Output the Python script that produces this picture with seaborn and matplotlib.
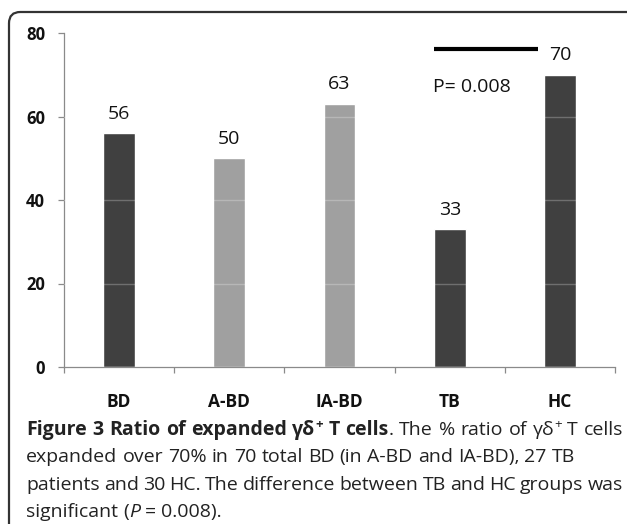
import matplotlib
matplotlib.use("Agg")
import matplotlib.pyplot as plt
import seaborn as sns
import pandas as pd
from matplotlib.patches import FancyBboxPatch

# values
groups = ["BD", "A-BD", "IA-BD", "TB", "HC"]
ratios = [56, 50, 63, 33, 70]
bar_labels = ["56", "50", "63", "33", "70"]
bar_colors = ["#404040", "#a0a0a0", "#a0a0a0", "#404040", "#404040"]
p_text = "P= 0.008"

sns.set_style("white")
plt.rcParams['font.family'] = ['Open Sans', 'DejaVu Sans']

df = pd.DataFrame({"group": groups, "ratio": ratios})

W, H = 627, 524
fig = plt.figure(figsize=(W/100, H/100), dpi=100)
ax = fig.add_axes([64/W, 1-367/H, (615-64)/W, (367-33)/H])

sns.barplot(data=df, x="group", y="ratio", hue="group", palette=bar_colors,
            legend=False, width=0.29, saturation=1, ax=ax)

# faint gridlines, only visible over the bars
for yv in [20, 40, 60]:
    ax.axhline(yv, color="white", alpha=0.25, lw=1, zorder=5)

ax.set_ylim(0, 80)
ax.set_xlim(-0.5, 4.5)
ax.set_yticks([0, 20, 40, 60, 80])
ax.set_xlabel("")
ax.set_ylabel("")
for s in ["top", "right"]:
    ax.spines[s].set_visible(False)
for s in ["left", "bottom"]:
    ax.spines[s].set_color("#8a8a8a")
    ax.spines[s].set_linewidth(0.9)

ax.tick_params(axis="y", left=True, length=4.5, width=0.9, color="#8a8a8a", labelsize=12, pad=9)
ax.tick_params(axis="x", bottom=False, labelsize=12.5, pad=15)
ax.set_xticks([-0.5, 0.5, 1.5, 2.5, 3.5, 4.5], minor=True)
ax.tick_params(axis="x", which="minor", bottom=True, length=4, width=0.9,
               color="#8a8a8a", direction="out")
for lab in ax.get_xticklabels() + ax.get_yticklabels():
    lab.set_fontweight("bold")
    lab.set_color("#111111")

# value labels above bars
for i in range(len(groups)):
    ax.text(i, ratios[i] + 3.5, bar_labels[i], ha="center", va="baseline",
            fontsize=14, color="#111111", clip_on=False)

# significance line TB vs HC
ax.plot([2.855, 3.8], [76.2, 76.2], color="black", lw=3, solid_capstyle="butt")
ax.text(2.845, 65.9, p_text, ha="left", va="baseline", fontsize=14, color="#111111")

# outer rounded frame
frame = FancyBboxPatch((9/W, -0.3), 1.3, 1.3 - 12/H, transform=fig.transFigure,
                       boxstyle="round,pad=0,rounding_size=0.018", fill=False,
                       edgecolor="#333333", lw=1.6, mutation_aspect=W/H)
fig.patches.append(frame)

# caption, drawn word by word so lines can be justified
renderer = fig.canvas.get_renderer()
cap_size = 14
cap_color = "#222222"


def make_frag(txt, weight, style, sup):
    size = cap_size * (0.68 if sup else 1)
    t = fig.text(0, 0, txt, fontsize=size, fontweight=weight, fontstyle=style,
                 ha="left", va="baseline", color=cap_color)
    w = t.get_window_extent(renderer=renderer).width / W
    return t, w, sup


def space_width():
    a = make_frag("a a", "normal", "normal", False)
    b = make_frag("aa", "normal", "normal", False)
    a[0].remove()
    b[0].remove()
    return a[1] - b[1]


def draw_line(y, runs, x0, x1=None):
    words = [[]]
    for txt, weight, style, sup in runs:
        parts = txt.split(" ")
        for k, part in enumerate(parts):
            if k > 0:
                words.append([])
            if part:
                words[-1].append(make_frag(part, weight, style, sup))
    words = [w for w in words if w]
    widths = [sum(f[1] for f in w) for w in words]
    if x1 is None:
        space = space_width()
    else:
        space = (x1 - x0 - sum(widths)) / (len(words) - 1)
    x = x0
    for w, ww in zip(words, widths):
        xx = x
        for t, fw, sup in w:
            t.set_position((xx, y + (0.014 if sup else 0)))
            xx += fw
        x += ww + space


left, right = 26/W, 623/W
base = [435, 462, 490, 517]
draw_line(1 - base[0]/H, [
    ("Figure 3 Ratio of expanded γδ", "bold", "normal", False),
    ("+", "bold", "normal", True),
    (" T cells", "bold", "normal", False),
    (". The % ratio of γδ", "normal", "normal", False),
    ("+", "normal", "normal", True),
    (" T cells", "normal", "normal", False),
], left, right)
# this line is not stretched in the original
draw_line(1 - base[1]/H, [
    ("expanded over 70% in 70 total BD (in A-BD and IA-BD), 27 TB", "normal", "normal", False),
], left)
draw_line(1 - base[2]/H, [
    ("patients and 30 HC. The difference between TB and HC groups was", "normal", "normal", False),
], left, right)
draw_line(1 - base[3]/H, [
    ("significant (", "normal", "normal", False),
    ("P", "normal", "italic", False),
    (" = 0.008).", "normal", "normal", False),
], left)

fig.savefig("out.png", dpi=100)
